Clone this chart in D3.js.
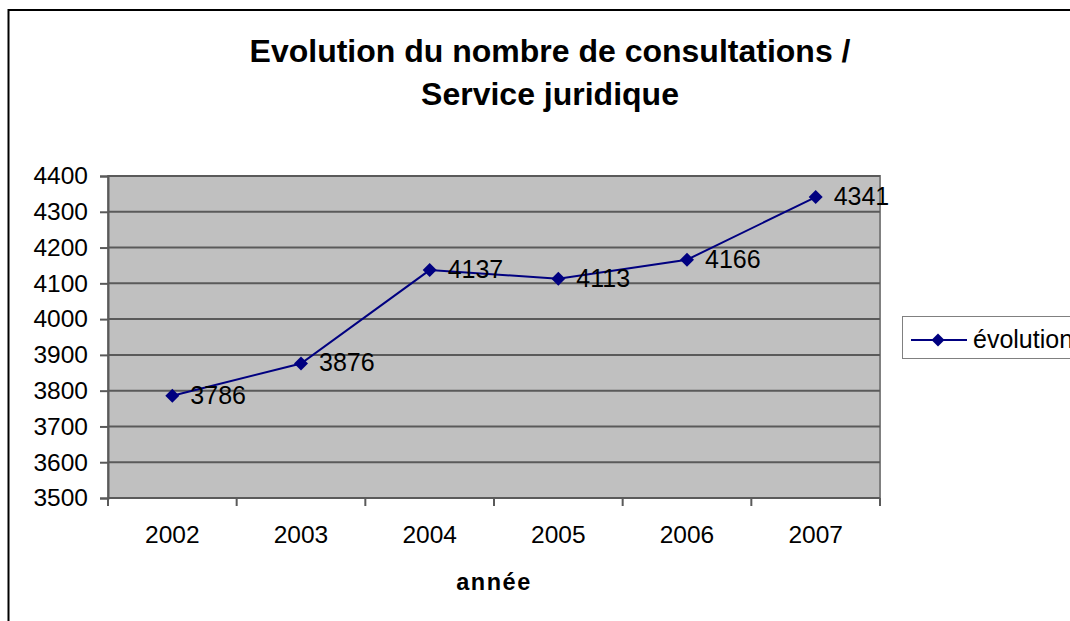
<!DOCTYPE html>
<html>
<head>
<meta charset="utf-8">
<script src="https://cdn.jsdelivr.net/npm/d3@7"></script>
<style>
  html, body { margin: 0; padding: 0; background: #fff; overflow: hidden; }
  svg { display: block; font-family: "Liberation Sans", Arial, sans-serif; }
</style>
</head>
<body>
<svg id="chart" width="1070" height="621"></svg>
<script>
const titleLines = ["Evolution du nombre de consultations /", "Service juridique"];
const years = ["2002", "2003", "2004", "2005", "2006", "2007"];
const values = [3786, 3876, 4137, 4113, 4166, 4341];
const yTicks = [3500, 3600, 3700, 3800, 3900, 4000, 4100, 4200, 4300, 4400];
const xTitle = "année";
const seriesName = "évolution";

const svg = d3.select("#chart");
const plot = { left: 108, top: 176, right: 880, bottom: 498 };

// outer frame
svg.append("rect")
  .attr("x", 8.5).attr("y", 10)
  .attr("width", 1100).attr("height", 700)
  .attr("fill", "#fff").attr("stroke", "#000").attr("stroke-width", 2);

// title
svg.append("text")
  .attr("x", 550).attr("y", 62)
  .attr("text-anchor", "middle")
  .attr("font-size", 32).attr("font-weight", "bold")
  .text(titleLines[0]);
svg.append("text")
  .attr("x", 550).attr("y", 105)
  .attr("text-anchor", "middle")
  .attr("font-size", 32).attr("font-weight", "bold")
  .text(titleLines[1]);

const x = d3.scaleBand().domain(years).range([plot.left, plot.right]).padding(0);
const y = d3.scaleLinear().domain([3500, 4400]).range([plot.bottom, plot.top]);

// plot background
svg.append("rect")
  .attr("x", plot.left).attr("y", plot.top)
  .attr("width", plot.right - plot.left).attr("height", plot.bottom - plot.top)
  .attr("fill", "#c0c0c0").attr("stroke", "#808080").attr("stroke-width", 2);

// gridlines
svg.append("g").selectAll("line")
  .data(yTicks.filter(t => t > 3500))
  .join("line")
  .attr("x1", plot.left).attr("x2", plot.right)
  .attr("y1", d => y(d)).attr("y2", d => y(d))
  .attr("stroke", "#5a5a5a").attr("stroke-width", 2);

// y axis
const yAxis = svg.append("g")
  .attr("transform", `translate(${plot.left},0)`)
  .call(d3.axisLeft(y).tickValues(yTicks).tickSize(8).tickPadding(12).tickFormat(d3.format("d")));
yAxis.select(".domain").attr("stroke", "#5a5a5a").attr("stroke-width", 2);
yAxis.selectAll(".tick line").attr("stroke", "#5a5a5a").attr("stroke-width", 2);
yAxis.selectAll(".tick text").attr("font-size", 24.5).attr("fill", "#000")
  .attr("font-family", "Liberation Sans, Arial, sans-serif");

// x axis (ticks between categories)
const xAxisG = svg.append("g");
xAxisG.append("line")
  .attr("x1", plot.left).attr("x2", plot.right)
  .attr("y1", plot.bottom).attr("y2", plot.bottom)
  .attr("stroke", "#5a5a5a").attr("stroke-width", 2);
const boundaries = years.map(d => x(d)).concat([x(years[years.length - 1]) + x.bandwidth()]);
xAxisG.selectAll("line.tk")
  .data(boundaries)
  .join("line").attr("class", "tk")
  .attr("x1", d => d).attr("x2", d => d)
  .attr("y1", plot.bottom).attr("y2", plot.bottom + 8)
  .attr("stroke", "#5a5a5a").attr("stroke-width", 2);
xAxisG.selectAll("text")
  .data(years)
  .join("text")
  .attr("x", d => x(d) + x.bandwidth() / 2)
  .attr("y", 543)
  .attr("text-anchor", "middle")
  .attr("font-size", 24.5)
  .text(d => d);

// x title
svg.append("text")
  .attr("x", 494).attr("y", 590)
  .attr("text-anchor", "middle")
  .attr("font-size", 23.5).attr("font-weight", "bold")
  .attr("letter-spacing", 1.5)
  .text(xTitle);

// series line
const pts = years.map((yr, i) => [x(yr) + x.bandwidth() / 2, y(values[i])]);
svg.append("path")
  .attr("d", d3.line()(pts))
  .attr("fill", "none").attr("stroke", "#000080").attr("stroke-width", 2);

const diamond = (cx, cy, r) => `M${cx},${cy - r}L${cx + r},${cy}L${cx},${cy + r}L${cx - r},${cy}Z`;
svg.append("g").selectAll("path")
  .data(pts)
  .join("path")
  .attr("d", d => diamond(d[0], d[1], 7))
  .attr("fill", "#000080");

// data labels
svg.append("g").selectAll("text")
  .data(pts)
  .join("text")
  .attr("x", d => d[0] + 18)
  .attr("y", d => d[1] + 8)
  .attr("font-size", 25)
  .text((d, i) => values[i]);

// legend
const lg = svg.append("g");
lg.append("rect")
  .attr("x", 902.5).attr("y", 316.5)
  .attr("width", 200).attr("height", 42)
  .attr("fill", "#fff").attr("stroke", "#808080").attr("stroke-width", 1);
lg.append("line")
  .attr("x1", 911).attr("x2", 967).attr("y1", 340).attr("y2", 340)
  .attr("stroke", "#000080").attr("stroke-width", 2);
lg.append("path").attr("d", diamond(938, 340, 6.5)).attr("fill", "#000080");
lg.append("text")
  .attr("x", 973).attr("y", 348)
  .attr("font-size", 25)
  .text(seriesName);
</script>
</body>
</html>
